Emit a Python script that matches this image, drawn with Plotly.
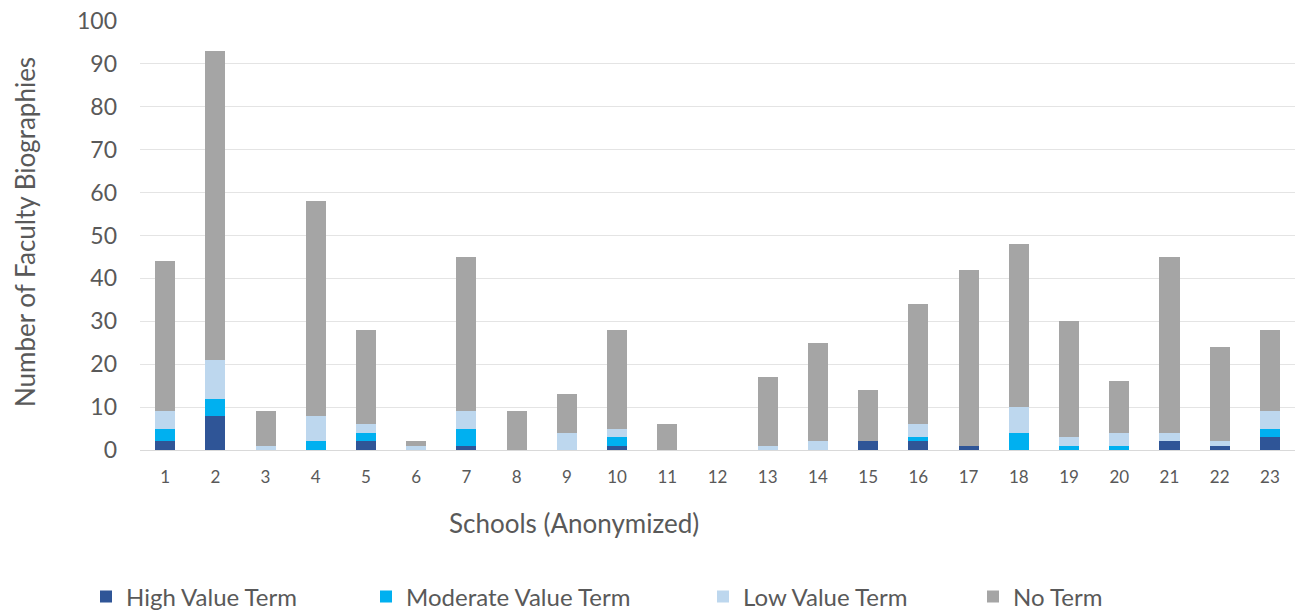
import plotly.graph_objects as go

schools = [str(i) for i in range(1, 24)]
high_value = [2, 8, 0, 0, 2, 0, 1, 0, 0, 1, 0, 0, 0, 0, 2, 2, 1, 0, 0, 0, 2, 1, 3]
moderate_value = [3, 4, 0, 2, 2, 0, 4, 0, 0, 2, 0, 0, 0, 0, 0, 1, 0, 4, 1, 1, 0, 0, 2]
low_value = [4, 9, 1, 6, 2, 1, 4, 0, 4, 2, 0, 0, 1, 2, 0, 3, 0, 6, 2, 3, 2, 1, 4]
no_term = [35, 72, 8, 50, 22, 1, 36, 9, 9, 23, 6, 0, 16, 23, 12, 28, 41, 38, 27, 12, 41, 22, 19]

series = [
    ("High Value Term", high_value, "#2F5597"),
    ("Moderate Value Term", moderate_value, "#00B0F0"),
    ("Low Value Term", low_value, "#BDD7EE"),
    ("No Term", no_term, "#A5A5A5"),
]

FONT = "Lato"
TEXT = "#595959"
W, H = 1300, 611
L, R, T, B = 140, 5, 21, 161

fig = go.Figure()
legend_x = [100, 380, 717, 987]
legend_names = ["legend", "legend2", "legend3", "legend4"]
for (name, vals, color), lg in zip(series, legend_names):
    fig.add_trace(go.Bar(
        x=schools, y=vals, name=name,
        marker=dict(color=color, line=dict(width=0)),
        legend=lg,
    ))

layout_legends = {}
for lg, px in zip(legend_names, legend_x):
    layout_legends[lg] = dict(
        xref="container", yref="container",
        x=(px - 14) / W, y=1 - 597 / H,
        xanchor="left", yanchor="middle",
        orientation="h",
        font=dict(family=FONT, size=24, color=TEXT),
        bgcolor="rgba(0,0,0,0)",
        itemwidth=30,
    )

fig.update_layout(
    barmode="stack",
    bargap=0.6,
    width=W, height=H,
    margin=dict(l=L, r=R, t=T, b=B),
    paper_bgcolor="white",
    plot_bgcolor="white",
    font=dict(family=FONT, color=TEXT),
    showlegend=True,
    **layout_legends,
)

fig.update_xaxes(
    type="category",
    showgrid=False,
    showline=True, linecolor="#D9D9D9", linewidth=1,
    ticks="",
    tickfont=dict(family=FONT, size=17, color=TEXT),
    ticklabelstandoff=12,
)
fig.update_yaxes(
    range=[0, 100],
    dtick=10,
    showgrid=True, gridcolor="#E4E4E4", gridwidth=1,
    zeroline=False,
    showline=False,
    ticks="",
    tickfont=dict(family=FONT, size=23, color=TEXT),
    ticklabelstandoff=22,
)

plot_w = W - L - R
plot_h = H - T - B
fig.add_annotation(
    text="Number of Faculty Biographies",
    xref="paper", yref="paper",
    x=(25 - L) / plot_w, y=(450 - 232) / plot_h,
    textangle=-90, showarrow=False,
    font=dict(family=FONT, size=26, color=TEXT),
    xanchor="center", yanchor="middle",
)
fig.add_annotation(
    text="Schools (Anonymized)",
    xref="paper", yref="paper",
    x=(574 - L) / plot_w, y=(450 - 523) / plot_h,
    showarrow=False,
    font=dict(family=FONT, size=26, color=TEXT),
    xanchor="center", yanchor="middle",
)

fig.write_html("out.html")
